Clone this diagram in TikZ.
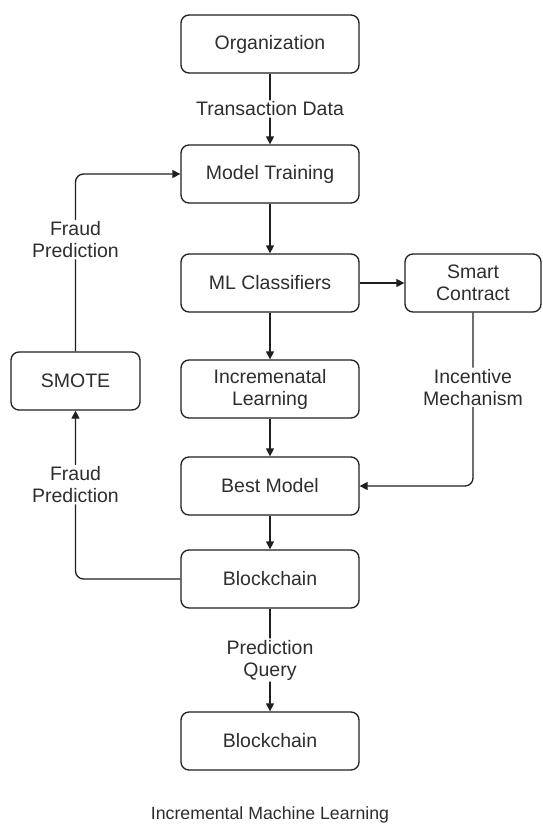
\documentclass[tikz,border=0pt]{standalone}
\usepackage{fontspec}
\setmainfont{Liberation Sans}
\usetikzlibrary{arrows.meta}
\begin{document}
\begin{tikzpicture}[x=1pt,y=-1pt,
  box/.style={draw=black!88, line width=1.3pt, rounded corners=8pt, minimum width=178pt, minimum height=58pt, align=center, inner sep=0pt, font=\fontsize{19.5}{22}\selectfont, text=black!82},
  conn/.style={draw=black!88, line width=1.3pt, rounded corners=8pt, -{Triangle[length=8pt,width=8pt]}},
  lbl/.style={fill=white, align=center, inner sep=1.5pt, font=\fontsize{19.5}{22}\selectfont, text=black!82}
]
\useasboundingbox[fill=white] (0,0) rectangle (543,830);
\node[box] (org) at (270,44) {Organization};
\node[box] (mt) at (270,174) {Model Training};
\node[box] (ml) at (270,283) {ML Classifiers};
\node[box, minimum width=136pt] (sc) at (473,283) {Smart\\Contract};
\node[box, minimum width=129pt] (smote) at (75.5,381) {SMOTE};
\node[box] (il) at (270,389) {Incremenatal\\Learning};
\node[box] (bm) at (270,486) {Best Model};
\node[box] (bc) at (270,579) {Blockchain};
\node[box] (bc2) at (270,741) {Blockchain};
\node[font=\fontsize{17.7}{20}\selectfont, text=black!82] (cap) at (270,815) {Incremental Machine Learning};

\draw[conn] (org) -- node[lbl] {Transaction Data} (mt);
\draw[conn] (mt) -- (ml);
\draw[conn] (ml) -- (sc);
\draw[conn] (ml) -- (il);
\draw[conn] (il) -- (bm);
\draw[conn] (sc.south) |- node[lbl, pos=0.215] {Incentive\\Mechanism} (bm.east);
\draw[conn] (bm) -- (bc);
\draw[conn] (bc.west) -| node[lbl, pos=0.78] {Fraud\\Prediction} (smote.south);
\draw[conn] (smote.north) |- node[lbl, pos=0.315] {Fraud\\Prediction} (mt.west);
\draw[conn] (bc) -- node[lbl] {Prediction\\Query} (bc2);
\end{tikzpicture}
\end{document}
